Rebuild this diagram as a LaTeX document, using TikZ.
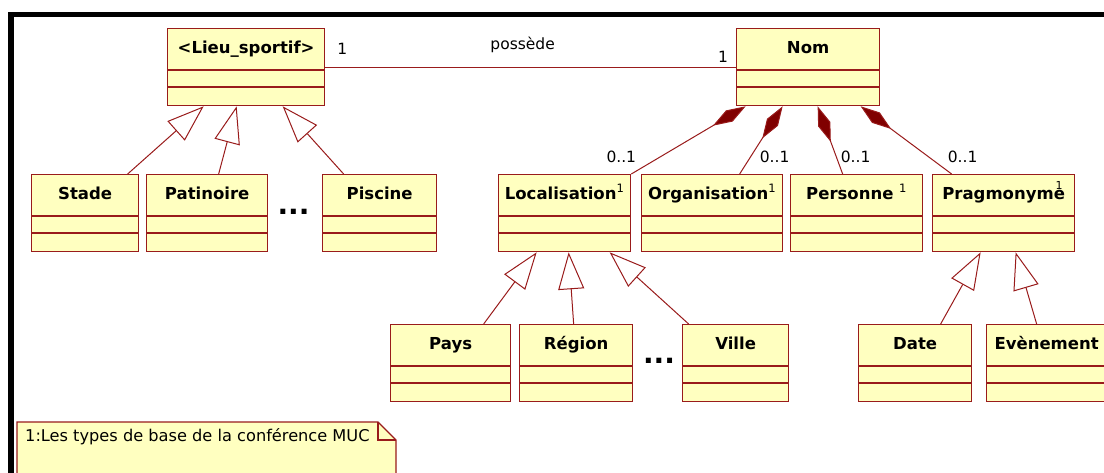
\documentclass[tikz,border=0pt]{standalone}
\usepackage{fontspec}
\setmainfont{DejaVu Sans}
\usetikzlibrary{arrows.meta}

\definecolor{umlred}{RGB}{153,27,27}
\definecolor{umlfill}{RGB}{255,255,192}
\definecolor{umldiam}{RGB}{128,0,0}

\begin{document}
\begin{tikzpicture}[x=1pt,y=-1pt,
    classbox/.style={draw=umlred, fill=umlfill, line width=1.3pt, inner sep=0pt, minimum height=77pt},
    classline/.style={draw=umlred, line width=1.3pt},
    classtitle/.style={inner sep=0pt, text height=12pt, text depth=3.5pt, font=\fontsize{16.5}{19}\selectfont\bfseries},
    multlabel/.style={inner sep=0pt, font=\fontsize{15.5}{18}\selectfont},
    inherit/.style={draw=umlred, line width=1pt, -{Triangle[length=37pt,width=26pt,fill=white]}},
    compo/.style={draw=umlred, line width=1pt, -{Diamond[length=38pt,width=13pt,fill=umldiam]}},
    assoc/.style={draw=umlred, line width=1pt},
    dots/.style={inner sep=0pt, anchor=base, font=\fontsize{28}{30}\selectfont\bfseries}]
  \useasboundingbox (0,0) rectangle (1104,472);
  \fill[white] (0,0) rectangle (1104,472);
  \draw[line width=5.5pt] (11,14.5) rectangle (1120,490);

  \foreach \n/\x/\y/\w/\t in {lieu/167/28/157/{<Lieu\_sportif>}, nom/736/28/143/{Nom},
      stade/31/174/107/{Stade}, patin/146/174/121/{Patinoire}, piscine/322/174/114/{Piscine},
      loc/498/174/132/{Localisation\textsuperscript{\mdseries 1}},
      org/641/174/141/{Organisation\textsuperscript{\mdseries 1}},
      pers/790/174/132/{Personne \textsuperscript{\mdseries 1}},
      prag/932/174/142/{Pragmonyme},
      pays/390/324/120/{Pays}, region/519/324/113/{Région}, ville/682/324/106/{Ville},
      date/858/324/113/{Date}, even/986/324/120/{Evènement}}{
    \node[classbox, minimum width=\w pt, anchor=north west] (\n) at (\x,\y) {};
    \node[classtitle] (\n-title) at ([yshift=-21pt]\n.north) {\t};
    \draw[classline] ([yshift=-42pt]\n.north west) -- ([yshift=-42pt]\n.north east);
    \draw[classline] ([yshift=-59pt]\n.north west) -- ([yshift=-59pt]\n.north east);
  }
  \node[multlabel, font=\fontsize{11}{12}\selectfont] (prag-sup) at (1059,185) {1};

  \node[dots] (dots1) at (293.5,214) {...};
  \node[dots] (dots2) at (659,363) {...};

  \draw[assoc] (lieu.east) -- (nom.west)
    node[multlabel, pos=0, xshift=17pt, yshift=18.5pt] (lieu-mult) {1}
    node[multlabel, midway, xshift=-8pt, yshift=22pt] (assoc-name) {possède}
    node[multlabel, pos=1, xshift=-13pt, yshift=10.5pt] (nom-mult) {1};

  \draw[compo] (loc.north east) -- ([xshift=-62.5pt]nom.south)
    node[multlabel, pos=0, xshift=-10pt, yshift=17pt] (loc-mult) {0..1};
  \draw[compo] ([xshift=27.5pt]org.north) -- ([xshift=-25.5pt]nom.south)
    node[multlabel, pos=0, xshift=35pt, yshift=17pt] (org-mult) {0..1};
  \draw[compo] ([xshift=-14pt]pers.north) -- ([xshift=9.5pt]nom.south)
    node[multlabel, pos=0, xshift=13pt, yshift=17pt] (pers-mult) {0..1};
  \draw[compo] ([xshift=-52pt]prag.north) -- ([xshift=52.5pt]nom.south)
    node[multlabel, pos=0, xshift=11pt, yshift=17pt] (prag-mult) {0..1};

  \draw[inherit] ([xshift=42.5pt]stade.north) -- ([xshift=-42.5pt]lieu.south);
  \draw[inherit] ([xshift=11.5pt]patin.north) -- ([xshift=-9.5pt]lieu.south);
  \draw[inherit] ([xshift=-36pt]piscine.north) -- ([xshift=36.5pt]lieu.south);
  \draw[inherit] ([xshift=33pt]pays.north) -- ([xshift=-28pt]loc.south);
  \draw[inherit] ([xshift=-2.5pt]region.north) -- ([xshift=4pt]loc.south);
  \draw[inherit] ([xshift=-47pt]ville.north) -- ([xshift=45pt]loc.south);
  \draw[inherit] ([xshift=25.5pt]date.north) -- ([xshift=-23pt]prag.south);
  \draw[inherit] ([xshift=-10pt]even.north) -- ([xshift=12pt]prag.south);

  % note
  \draw[draw=umlred, fill=umlfill, line width=1.3pt] (17,422) -- (378,422) -- (396,440) -- (396,485) -- (17,485) -- cycle;
  \draw[draw=umlred, line width=1.3pt] (378,422) -- (378,440) -- (396,440);
  \node[multlabel, anchor=west, font=\fontsize{16.2}{19}\selectfont] (note) at (25,437) {1:Les types de base de la conférence MUC};
\end{tikzpicture}
\end{document}
